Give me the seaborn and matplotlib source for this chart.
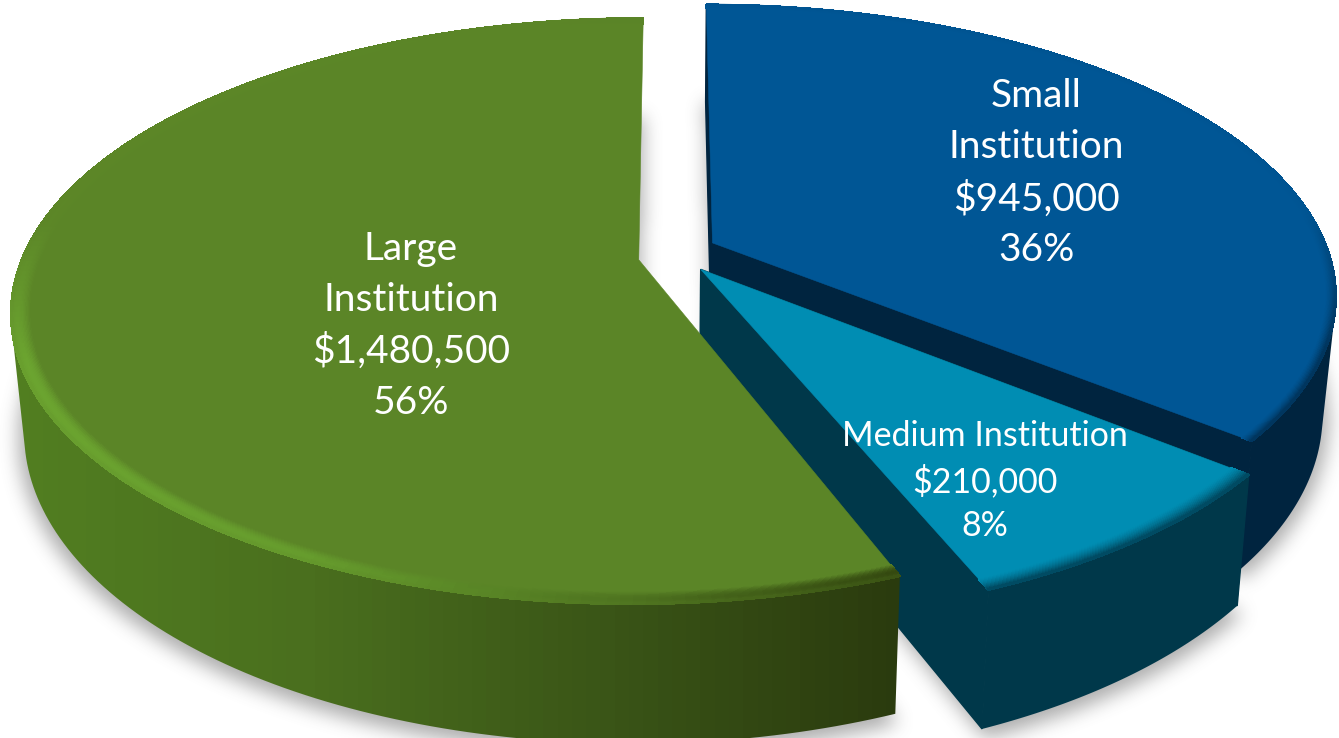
import numpy as np
import matplotlib
matplotlib.use('Agg')
import matplotlib.pyplot as plt
from matplotlib.collections import PolyCollection, LineCollection
from matplotlib.colors import to_rgb
from matplotlib.path import Path
from matplotlib.patches import Polygon, PathPatch
import seaborn as sns

# chart data, clockwise from 12 o'clock
names = ['Small\nInstitution', 'Medium Institution', 'Large\nInstitution']
values = [945000, 210000, 1480500]
shares = [36, 8, 56]

# look of each slice
explode = [0.075, 0.08, 0.05]
nudge = [(1, -2), (1, -3), (-1, 3)]
trim_deg = [0, 0, 1]
bevel_in = [0.984, 0.972, 0.972]
top_colors = ['#005695', '#008db3', '#5b8527']
wall_colors = [['#00243f', '#00243f'], ['#00384a', '#00384a'], ['#527f21', '#4a6f1e', '#3a5517', '#2a3a0e']]
rim_colors = [['#00345c', '#00345c'], ['#00475e', '#00475e'], ['#6ca530', '#669c2d', '#4f7520', '#33470f']]
label_xy = [(1036, 173), (985, 481), (411, 326)]
label_size = [28, 24.5, 28]
label_gap = [1.51, 1.44, 1.5]

# camera, in picture pixels
CX, CY = 670, 254
RX, RY = 616, 283
PERSP = 0.175
DEPTH = 115
TAPER = 0.02


def project(x, y, z=0.0):
    s = 1 / (1 + PERSP * y)
    return CX + RX * x * s * (1 - TAPER * z), CY - RY * y * s + DEPTH * z * s


def arc(a0, a1, off, r=1.0, z=0.0, n=200, shift=(0, 0)):
    th = np.linspace(a0, a1, n)
    px, py = project(off[0] + r * np.sin(th), off[1] + r * np.cos(th), z)
    return np.column_stack([px + shift[0], py + shift[1]])


def ramp(colors, x):
    # colour along the picture width, 0 at the left and 1 at the right of the slice group
    pal = np.array([to_rgb(c) for c in sns.blend_palette(colors, 64)])
    t = np.clip(x / 900, 0, 1) * 63
    return pal[t.astype(int)]


def blur(img, w, passes=3):
    kernel = np.ones(w) / w
    for _ in range(passes):
        img = np.apply_along_axis(lambda v: np.convolve(v, kernel, mode='same'), 0, img)
        img = np.apply_along_axis(lambda v: np.convolve(v, kernel, mode='same'), 1, img)
    return img


sns.set_theme(style='white')
plt.rcParams['font.family'] = ['Lato', 'DejaVu Sans']

fig = plt.figure(figsize=(13.39, 7.38), dpi=100)
ax = fig.add_axes([0, 0, 1, 1])
ax.set_xlim(0, 1339)
ax.set_ylim(738, 0)
ax.set_autoscale_on(False)
ax.axis('off')

angles = np.cumsum([0] + values) / sum(values) * 2 * np.pi
slices = []
for i in range(len(values)):
    a0, a1 = angles[i] + np.radians(trim_deg[i]), angles[i + 1]
    mid = (angles[i] + angles[i + 1]) / 2
    slices.append((a0, a1, (explode[i] * np.sin(mid), explode[i] * np.cos(mid)), nudge[i]))

# soft shadow from the bottom faces
gx, gy = np.meshgrid(np.arange(-60, 1400, 2.0), np.arange(-60, 800, 2.0))
pts = np.column_stack([gx.ravel(), gy.ravel()])
mask = np.zeros(gx.shape)
for a0, a1, off, sh in slices:
    apex = np.array(project(off[0], off[1], 1.04)) + sh
    base = np.vstack([apex, arc(a0, a1, off, 1.01, 1.04, shift=sh)])
    mask = np.maximum(mask, Path(base).contains_points(pts).reshape(gx.shape).astype(float))
mask = blur(mask, 9)
rgba = np.zeros(gx.shape + (4,))
rgba[..., :3] = 0.35
rgba[..., 3] = mask * 0.5
ax.imshow(rgba, extent=[-61, 1399, 799, -61], zorder=1, interpolation='bilinear', aspect='auto')

for i, (a0, a1, off, sh) in enumerate(slices):
    z0 = 2 + i * 3

    # side cuts towards the centre, the large slice shows none of its own
    apex_top = np.array(project(off[0], off[1], 0)) + sh
    apex_bot = np.array(project(off[0], off[1], 1)) + sh
    if i < 2:
        for a in (a0, a1):
            ends = arc(a, a, off, n=1, shift=sh)[0], arc(a, a, off, z=1.0, n=1, shift=sh)[0]
            cut = np.array([apex_top, ends[0], ends[1], apex_bot])
            ax.add_patch(Polygon(cut, closed=True, fc=wall_colors[i][0], ec=wall_colors[i][0], lw=1, zorder=z0))

    # outer wall, gradient image clipped to the strips that face the viewer
    up = arc(a0, a1, off, shift=sh)
    lo = arc(a0, a1, off, z=1.0, shift=sh)
    strips = np.stack([up[:-1], up[1:], lo[1:], lo[:-1], up[:-1]], axis=1)
    area = np.sum(strips[:, :-1, 0] * strips[:, 1:, 1] - strips[:, 1:, 0] * strips[:, :-1, 1], axis=1)
    facing = area * area[np.argmax(strips[:, 0, 1])] > 0
    wall = PathPatch(Path.make_compound_path(*[Path(q, closed=True) for q in strips[facing]]), transform=ax.transData)
    grad = ramp(wall_colors[i], np.arange(0, 1339, dtype=float))[None, :, :]
    im = ax.imshow(grad, extent=[0, 1339, 738, 0], aspect='auto', zorder=z0 + 0.5)
    im.set_clip_path(wall)

    # top face
    top = np.vstack([apex_top, up])
    ax.add_patch(Polygon(top, closed=True, fc=top_colors[i], ec=top_colors[i], lw=0.4, zorder=z0 + 1))

    # bevel on the front rim of the top face
    radii = np.linspace(bevel_in[i], 1.0, 15)
    th = np.linspace(a0, a1, 200)
    tc = np.array(to_rgb(top_colors[i]))
    front = np.clip((0.15 - np.cos(th[:-1])) / 0.5, 0.05, 1)[:, None]
    quads, cols = [], []
    for k in range(len(radii) - 1):
        inner = arc(a0, a1, off, radii[k], shift=sh)
        outer = arc(a0, a1, off, radii[k + 1], shift=sh)
        band = np.stack([inner[:-1], inner[1:], outer[1:], outer[:-1]], axis=1)
        t = (k + 0.5) / (len(radii) - 1)
        strength = np.sin(np.pi * min(t / 1.4, 1)) if i == 2 else t ** 1.5
        edge = ramp(rim_colors[i], band[:, :, 0].mean(axis=1))
        quads.append(band)
        cols.append(tc + (edge - tc) * strength * front)
    last = cols[-1]
    quads = np.concatenate(quads)
    cols = np.concatenate(cols)
    ax.add_collection(PolyCollection(quads, facecolors=cols, edgecolors=cols, linewidths=0.9,
                                     antialiased=False, zorder=z0 + 1.5))
    # smooth outer line so the unsmoothed bevel does not leave a stair edge
    segs = np.stack([up[:-1], up[1:]], axis=1)
    ax.add_collection(LineCollection(segs, colors=last, linewidths=1.2, zorder=z0 + 1.6))

for i, name in enumerate(names):
    txt = f'{name}\n${values[i]:,}\n{shares[i]}%'
    ax.text(label_xy[i][0], label_xy[i][1], txt, color='white', fontsize=label_size[i], ha='center', va='center',
            linespacing=label_gap[i], multialignment='center', zorder=30)

ax.set_xlim(0, 1339)
ax.set_ylim(738, 0)
fig.savefig('out.png', dpi=100, facecolor='white')
